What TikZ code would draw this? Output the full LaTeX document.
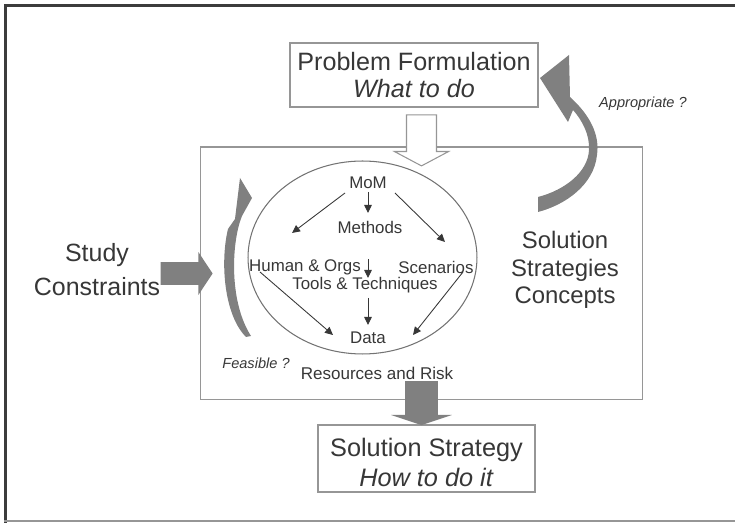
\documentclass[tikz,border=0pt]{standalone}
\usepackage{fontspec}
\setmainfont{Liberation Sans}
\usepackage{xcolor}
\usepackage{tikz}
\usetikzlibrary{positioning,calc,shapes.geometric,shapes.arrows,arrows.meta}
\definecolor{BoxGray}{RGB}{150,150,150}
\definecolor{EllipseGray}{RGB}{115,115,115}
\definecolor{ArrowGray}{RGB}{128,128,128}
\definecolor{TextGray}{RGB}{55,55,55}
\definecolor{FrameDark}{RGB}{60,60,60}
\tikzset{
    plainbox/.style={rectangle, draw=BoxGray, line width=0.6pt, inner sep=0pt, align=center, text=TextGray},
    bigfont/.style={font=\fontsize{14.3}{15.3}\selectfont},
    innertext/.style={inner sep=0pt, text=TextGray, font=\fontsize{9.6}{11}\selectfont},
    asktext/.style={inner sep=0pt, text=TextGray, font=\fontsize{8.3}{10}\selectfont\itshape},
    flow/.style={draw=TextGray, line width=0.5pt, -{Triangle[length=1.6mm, width=1.5mm]}}
}

\begin{document}
\begin{tikzpicture}[
        x=0.02cm, y=-0.02cm,
        % Style cho mũi tên khối xám
        blockarrow/.style={
            single arrow,
            fill=ArrowGray,
            inner sep=0pt
        },
        % Style cho mũi tên khối rỗng
        hollowarrow/.style={
            single arrow,
            draw=BoxGray,
            fill=white,
            line width=0.6pt,
            inner sep=0pt
        }
    ]
    \useasboundingbox (0,0) rectangle (735,523);

    % --- KHUNG NGOÀI ---
    \draw[FrameDark, line width=0.06cm] (5.5,523) -- (5.5,5.5) -- (735,5.5);
    \draw[BoxGray, line width=0.04cm] (4,521.5) -- (735,521.5);

    % --- HỘP CHÍNH VÀ ELLIPSE ---
    \node[plainbox, minimum width=8.86cm, minimum height=5.06cm] (concept) at (421.5,273.5) {};
    \node[ellipse, draw=EllipseGray, line width=0.6pt, inner sep=0pt,
          minimum width=4.58cm, minimum height=3.86cm] (momcircle) at (362.5,257.5) {};

    % --- HỘP TRÊN / DƯỚI ---
    \node[plainbox, bigfont, minimum width=4.96cm, minimum height=1.28cm] (problem) at (414,75)
        {Problem Formulation\\\textit{What to do}};
    \node[plainbox, font=\fontsize{14.4}{17}\selectfont, minimum width=4.34cm, minimum height=1.34cm] (solution) at (426.5,458.5)
        {\rule{0pt}{15pt}Solution Strategy\\\textit{How to do it}};

    % --- CHỮ TRÁI / PHẢI ---
    \node[align=center, text=TextGray, inner sep=0pt, font=\fontsize{14.2}{19.3}\selectfont] (study) at (97,270)
        {Study\\Constraints};
    \node[align=center, text=TextGray, inner sep=0pt, font=\fontsize{13.6}{15.6}\selectfont] (strategies) at (565,270)
        {Solution\\Strategies\\Concepts};

    % --- NỘI DUNG TRONG ELLIPSE ---
    \node[innertext] (mom) at (368,183) {MoM};
    \node[innertext] (methods) at (370,227) {Methods};
    \node[innertext] (human) at (305,267) {Human \& Orgs};
    \node[innertext] (scenarios) at (436,267) {Scenarios};
    \node[innertext] (tools) at (365,285) {Tools \& Techniques};
    \node[innertext] (data) at (368,338) {Data};
    \node[innertext, font=\fontsize{9.7}{11}\selectfont] (resources) at (377,373) {Resources and Risk};
    \node[asktext] (feasible) at (256,363) {Feasible ?};
    \node[asktext] (appropriate) at (643,104) {Appropriate ?};

    \draw[flow] ($(mom)+(-23,10)$) -- ($(human)+(-13,-34)$);
    \draw[flow] ($(mom)+(0,9)$) -- ($(methods)+(-2,-14)$);
    \draw[flow] ($(mom)+(27,10)$) -- ($(scenarios)+(9,-25)$);
    \draw[flow] ($(methods)+(-2,32)$) -- ($(tools)+(3,-7)$);
    \draw[flow] ($(tools)+(3,13)$) -- ($(data)+(0,-13)$);
    \draw[flow] ($(human)+(-45,5)$) -- ($(data)+(-35,-3)$);
    \draw[flow] ($(scenarios)+(27,5)$) -- ($(data)+(45,-3)$);

    % --- MŨI TÊN CONG ---
    \fill[ArrowGray] (240,178) -- (252,198) -- (242,216)
        .. controls (232,240) and (228,300) .. (251,336) -- (246,337)
        .. controls (224,315) and (220,262) .. (228,229) -- (235,219) -- cycle;
    \fill[ArrowGray] (540,78) -- (569,55) -- (570,97)
        .. controls (590,115) and (600,135) .. (597,155)
        .. controls (594,185) and (565,205) .. (538,212) -- (538,197)
        .. controls (565,190) and (588,172) .. (589,150)
        .. controls (590,135) and (582,120) .. (573,110) -- (568,122) -- cycle;

    % --- MŨI TÊN KHỐI ---
    \node[blockarrow, text height=0.22cm, text depth=0.22cm, minimum height=1.04cm, single arrow head extend=0.2cm,
          single arrow tip angle=113, anchor=tip] (inarrow) at ([xshift=0.27cm]concept.west) {};
    \node[hollowarrow, rotate=-90, text height=0.29cm, text depth=0.29cm, minimum height=1.02cm, single arrow head extend=0.24cm,
          single arrow tip angle=124, anchor=tip] (downarrow) at ([yshift=-0.4cm]concept.north) {};
    \node[blockarrow, rotate=-90, text height=0.32cm, text depth=0.32cm, minimum height=0.88cm, single arrow head extend=0.28cm,
          single arrow tip angle=143, anchor=tip] (outarrow) at ([yshift=-0.5cm]concept.south) {};

\end{tikzpicture}
\end{document}
